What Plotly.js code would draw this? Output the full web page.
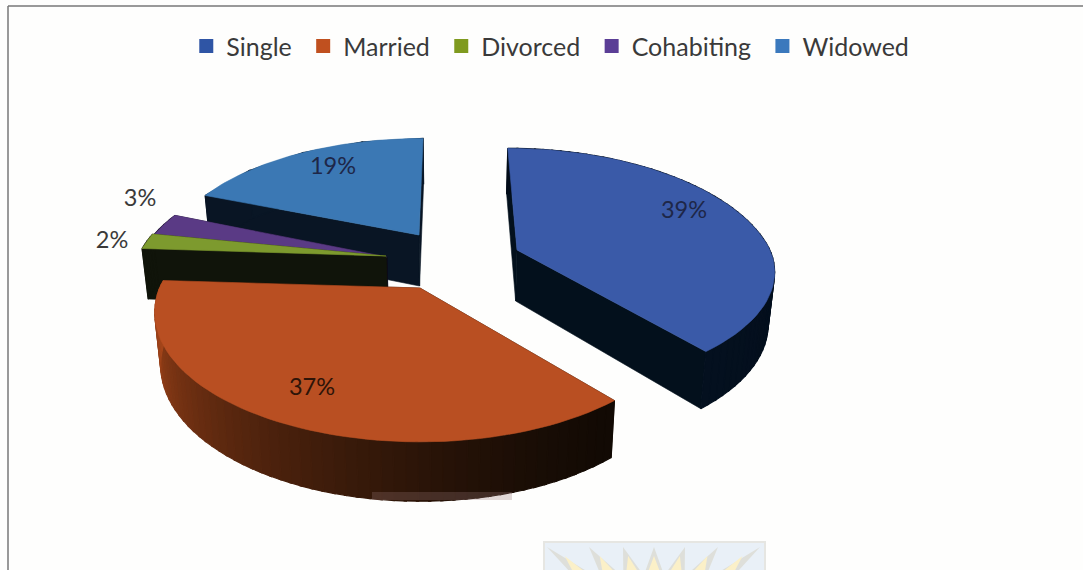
<!DOCTYPE html>
<html><head><meta charset="utf-8">
<script src="https://cdn.plot.ly/plotly-3.0.1.min.js"></script>
<style>html,body{margin:0;padding:0;background:#fefefd}</style></head>
<body><div id="chart" style="width:1083px;height:570px"></div>
<script>
const categories = ["Single","Married","Divorced","Cohabiting","Widowed"];
const percents = [39,37,2,3,19];
const topColors = ["#3A5AA8","#B94F22","#7D9A2E","#5A3A85","#3B78B4"];
const legendColors = ["#2F55A5","#C0501F","#7F9A1F","#5B3E96","#3B79BD"];
const faceColors = ["#03101C","#1A0E05","#10140A","#0C0A18","#091524"];
const rimLight = ["#04101F","#B04A1C","#10140A","#1A1030","#0A1828"];
const rimDark = ["#020C18","#120A04","#10140A","#0C0A18","#091524"];
// exploded position of each wedge on screen
const apexX = [517,420,386,387,419];
const apexY = [250,288,256,257,235];
const scaleX = [1.02,1.05,1,1,1];
const scaleFront = [0.93,1.03,1,1,1];
const scaleBack = [1,1,1,1,0.95];
const labelX = [684,312,112,140,333];
const labelY = [212,389,242,200,168];

const R=248,RS=121,K=0.19,DEPTH=51,CX=449;
function pt(i,deg,r,h){
  const th=deg*Math.PI/180, X=r*Math.sin(th), Y=r*Math.cos(th), s=1/(1+K*Y);
  const shear = Y>0 ? (apexX[i]-CX)*(s-1)*0.85 : 0;
  let x=apexX[i]+R*scaleX[i]*X*s+shear;
  let y=apexY[i]-RS*(Y>0?scaleBack[i]:scaleFront[i])*Y*s;
  if(h){ const d=DEPTH*(1+(s-1)*0.7); y+=d; x-=(x-CX)*0.02; }
  return [x,y];
}
function hex(c){return [1,3,5].map(j=>parseInt(c.substr(j,2),16));}
function mix(a,b,t){const A=hex(a),B=hex(b);return "rgb("+A.map((v,j)=>Math.round(v+(B[j]-v)*t)).join(",")+")";}
function poly(pts,color,w){
  return {type:"scatter",mode:"lines",x:pts.map(p=>p[0]).concat(pts[0][0]),y:pts.map(p=>p[1]).concat(pts[0][1]),
    fill:"toself",fillcolor:color,line:{color:color,width:w||0.6},showlegend:false,hoverinfo:"skip"};
}
const start=[];let acc=0;percents.forEach(p=>{start.push(acc);acc+=p*3.6;});
const traces=[];
categories.forEach((c,i)=>traces.push({type:"scatter",mode:"markers",x:[null],y:[null],name:c+"\u00A0",
  marker:{symbol:"square",size:14,color:legendColors[i]},showlegend:true,hoverinfo:"skip"}));
const order=[4,3,2,1,0];
order.forEach(i=>{
  const a=start[i],b=a+percents[i]*3.6,STRIPS=i<2?60:4;
  traces.push(poly([pt(i,a,1,0),pt(i,a,0,0),pt(i,a,0,1),pt(i,a,1,1)],faceColors[i]));
  traces.push(poly([pt(i,b,1,0),pt(i,b,0,0),pt(i,b,0,1),pt(i,b,1,1)],faceColors[i]));
  for(let n=0;n<STRIPS;n++){
    const d0=a+(b-a)*n/STRIPS,d1=Math.min(b,a+(b-a)*(n+1)/STRIPS+0.4);
    const t=n/(STRIPS-1);
    traces.push(poly([pt(i,d0,1,0),pt(i,d1,1,0),pt(i,d1,1,1),pt(i,d0,1,1)],mix(rimDark[i],rimLight[i],Math.pow(t,1.5)),1.2));
  }
  const arc=[pt(i,a,0,0)];
  for(let n=0;n<=60;n++)arc.push(pt(i,a+(b-a)*n/60,1,0));
  traces.push(poly(arc,topColors[i]));
});
traces.push({type:"scatter",mode:"text",x:labelX,y:labelY,text:percents.map(p=>p+"%"),textposition:"middle center",
  textfont:{family:"Lato, sans-serif",size:23.5,color:["#1E2748","#2E1408","#3A3A3A","#3A3A3A","#1E2748"]},showlegend:false,hoverinfo:"skip"});

// faint scanned crest at the bottom edge
const crestTips=[547,589,623,654,685,718,760];
const shapes=[
 {type:"line",xref:"x",yref:"y",x0:8,x1:1083,y0:6,y1:6,line:{color:"#777777",width:1.5},layer:"below"},
 {type:"line",xref:"x",yref:"y",x0:8,x1:8,y0:6,y1:570,line:{color:"#777777",width:1.5},layer:"below"},
 {type:"rect",xref:"x",yref:"y",x0:544,x1:765,y0:542,y1:575,line:{color:"#E6E6E2",width:2},fillcolor:"#E9F0F7",layer:"below"},
 {type:"rect",xref:"x",yref:"y",x0:372,x1:512,y0:492,y1:500,line:{width:0},fillcolor:"rgba(150,120,120,0.28)",layer:"above"}
];
crestTips.forEach(v=>{
  const base=v+(654-v)*0.3, lean=(654-v)*0.3;
  shapes.push({type:"path",xref:"x",yref:"y",path:`M ${base-9} 572 L ${v} 547 L ${base+9} 572 Z`,fillcolor:"#DEDFDA",line:{width:0},layer:"below"});
  shapes.push({type:"path",xref:"x",yref:"y",path:`M ${base-6} 572 L ${v+lean*0.55} 556 L ${base+6} 572 Z`,fillcolor:"#FBF0C8",line:{width:0},layer:"below"});
});

Plotly.newPlot("chart",traces,{
  width:1083,height:570,margin:{l:0,r:0,t:0,b:0},
  paper_bgcolor:"#fefefd",plot_bgcolor:"#fefefd",
  xaxis:{range:[0,1083],visible:false,fixedrange:true},
  yaxis:{range:[570,0],visible:false,fixedrange:true},
  showlegend:true,
  legend:{orientation:"h",x:0.172,xanchor:"left",y:0.959,yanchor:"top",bgcolor:"rgba(0,0,0,0)",
    font:{family:"Lato, sans-serif",size:25,color:"#3A3A3A"},itemclick:false,itemdoubleclick:false},
  shapes
},{displayModeBar:false,staticPlot:true});
</script></body></html>
